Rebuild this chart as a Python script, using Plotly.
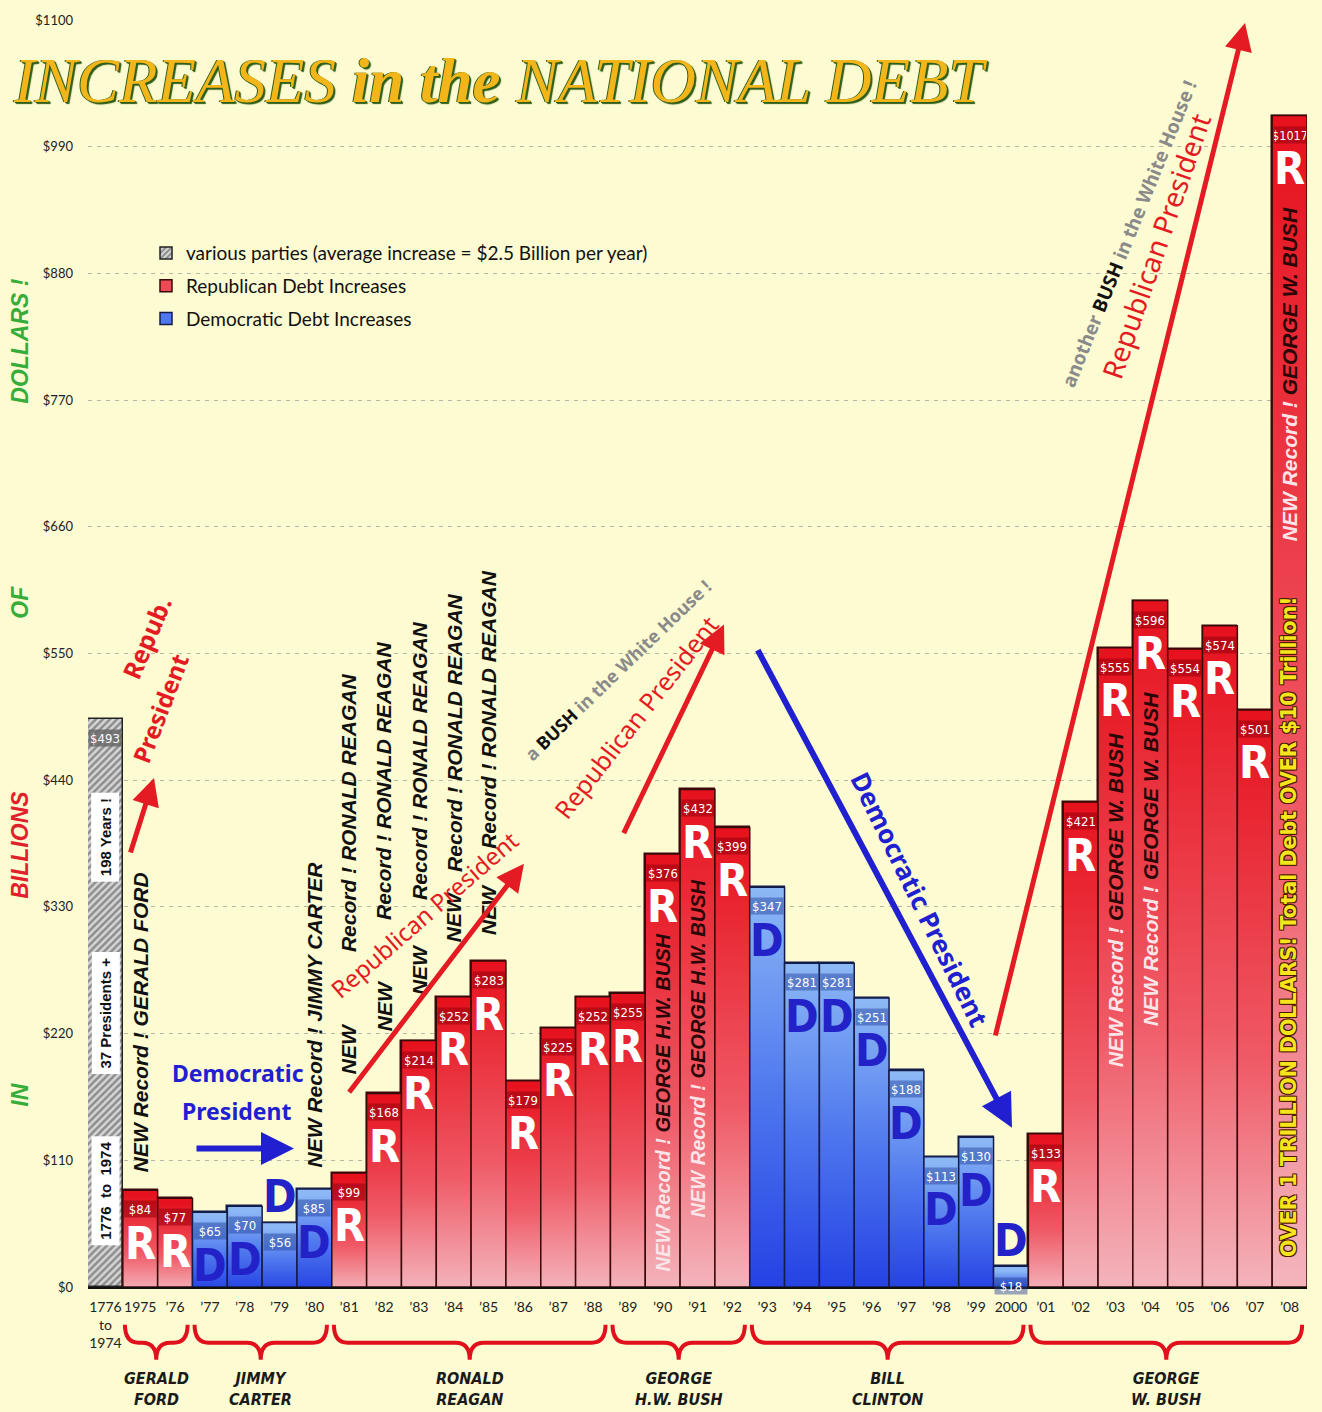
import plotly.graph_objects as go

# ---------------- data ----------------
periods = ["1776-1974", "1975", "1976", "1977", "1978", "1979", "1980",
           "1981", "1982", "1983", "1984", "1985", "1986", "1987", "1988",
           "1989", "1990", "1991", "1992",
           "1993", "1994", "1995", "1996", "1997", "1998", "1999", "2000",
           "2001", "2002", "2003", "2004", "2005", "2006", "2007", "2008"]
tick_labels = ["1776<br>to<br>1974", "1975", "’76", "’77", "’78", "’79", "’80",
               "’81", "’82", "’83", "’84", "’85", "’86", "’87", "’88",
               "’89", "’90", "’91", "’92",
               "’93", "’94", "’95", "’96", "’97", "’98", "’99", "2000",
               "’01", "’02", "’03", "’04", "’05", "’06", "’07", "’08"]
increases = [493, 84, 77, 65, 70, 56, 85,
             99, 168, 214, 252, 283, 179, 225, 252,
             255, 376, 432, 399,
             347, 281, 281, 251, 188, 113, 130, 18,
             133, 421, 555, 596, 554, 574, 501, 1017]
parties = ["V", "R", "R", "D", "D", "D", "D",
           "R", "R", "R", "R", "R", "R", "R", "R",
           "R", "R", "R", "R",
           "D", "D", "D", "D", "D", "D", "D", "D",
           "R", "R", "R", "R", "R", "R", "R", "R"]
president_names = ["GERALD<br>FORD", "JIMMY<br>CARTER", "RONALD<br>REAGAN",
                   "GEORGE<br>H.W. BUSH", "BILL<br>CLINTON", "GEORGE<br>W. BUSH"]
president_first = [1, 3, 7, 15, 19, 27]
president_last = [2, 6, 14, 18, 26, 34]
y_tickvals = [0, 110, 220, 330, 440, 550, 660, 770, 880, 990, 1100]
y_ticktext = ["$" + str(v) for v in y_tickvals]
legend_names = {"V": "various parties (average increase = $2.5 Billion per year)",
                "R": "Republican Debt Increases",
                "D": "Democratic Debt Increases"}

# ---------------- layout helpers ----------------
W, H = 1322, 1412
ML, MR, MT, MB = 88, 15, 15, 125
PW, PH = W - ML - MR, H - MT - MB


def px_x(px):
    return (px - ML) / PW


def px_y(py):
    return (H - MB - py) / PH


BG = "#fdfbd2"
SANS = "Liberation Sans, Arial, sans-serif"
WIDE = "DejaVu Sans, Liberation Sans, sans-serif"
NARROW = "Liberation Sans Narrow, DejaVu Sans Condensed, Roboto Condensed, Arial Narrow, Liberation Sans, sans-serif"
GILL = "Lato, Open Sans, sans-serif"
HAND = "Noto Sans, DejaVu Sans, sans-serif"
RED_TXT = "#e41b23"
BLUE_TXT = "#2020d0"

RED_SCALE = [[0, "#f4b6be"], [0.4, "#ef5a66"], [1, "#e6121e"]]
BLUE_SCALE = [[0, "#2440e4"], [0.5, "#4f78ee"], [1, "#8cb8f6"]]

fig = go.Figure()

idx_v = [i for i, p in enumerate(parties) if p == "V"]
idx_r = [i for i, p in enumerate(parties) if p == "R"]
idx_d = [i for i, p in enumerate(parties) if p == "D"]

fig.add_trace(go.Bar(
    x=idx_v, y=[increases[i] for i in idx_v], name=legend_names["V"],
    legendgroup="v", width=1,
    marker=dict(color="#d9d9d9", line=dict(color="#222222", width=1.5),
                pattern=dict(shape="/", fgcolor="#444444", bgcolor="#d6d6d6",
                             size=5, solidity=0.5)),
    hoverinfo="skip"))
fig.add_trace(go.Bar(
    x=idx_r, y=[increases[i] for i in idx_r], name=legend_names["R"],
    legendgroup="r", width=1,
    marker=dict(color="#ee4a55", line=dict(color="#3a0a0a", width=1.5)),
    hoverinfo="skip"))
fig.add_trace(go.Bar(
    x=idx_d, y=[increases[i] for i in idx_d], name=legend_names["D"],
    legendgroup="d", width=1,
    marker=dict(color="#4f78ee", line=dict(color="#141c4a", width=1.5)),
    hoverinfo="skip"))

# gradient overlays built from the same values
for i, (v, p) in enumerate(zip(increases, parties)):
    if p == "V":
        continue
    scale = RED_SCALE if p == "R" else BLUE_SCALE
    edge = "#3a0a0a" if p == "R" else "#141c4a"
    fig.add_trace(go.Scatter(
        x=[i - 0.5, i - 0.5, i + 0.5, i + 0.5, i - 0.5],
        y=[0, v, v, 0, 0],
        mode="lines", fill="toself",
        fillgradient=dict(type="vertical", colorscale=scale, start=0, stop=v),
        line=dict(color=edge, width=1.5),
        hoverinfo="skip", showlegend=False))

ann = []

# value labels and party letters
for i, (v, p) in enumerate(zip(increases, parties)):
    if p == "V":
        box = "rgba(105,105,105,0.85)"
    elif p == "R":
        box = "rgba(150,0,12,0.55)"
    else:
        box = "rgba(30,60,150,0.45)"
    lab_shift = -19
    if v < 30:
        lab_shift = -(v * PH / 1100) + 1
    label = "$" + str(v)
    ann.append(dict(x=i, y=v, xref="x", yref="y", text=label,
                    yshift=lab_shift, showarrow=False, width=32, height=16,
                    bgcolor=box, borderpad=0,
                    font=dict(family=NARROW, size=12.5 if len(label) > 4 else 13,
                              color="white")))
    if p == "V":
        continue
    letter_shift = -53 if v >= 60 else 26
    ann.append(dict(x=i, y=v, xref="x", yref="y", text=p,
                    yshift=letter_shift, showarrow=False,
                    font=dict(family=NARROW, size=45, weight="bold",
                              color="white" if p == "R" else "#2222c8")))

# pills on the historical bar
for py, t in [(1190, "1776\u00a0\u00a0to\u00a0\u00a01974"), (1012, "37 Presidents +"), (835, "198 Years !")]:
    ann.append(dict(x=0, xref="x", y=px_y(py), yref="paper", text=t, textangle=-90,
                    showarrow=False, bgcolor="white", borderpad=5,
                    font=dict(family=SANS, size=15, weight="bold", color="#111")))


def vtext(idx, py, text, size=21, color="#111"):
    ann.append(dict(x=idx, xref="x", y=px_y(py), yref="paper", text=text,
                    textangle=-90, showarrow=False,
                    font=dict(family=SANS, size=size, color=color,
                              weight="bold", style="italic")))


vtext(1, 1021, "NEW Record ! GERALD FORD")
vtext(6, 1013, "NEW Record ! JIMMY CARTER")
for idx, pn, pr in [(7, 1048, 811), (8, 1005, 779), (9, 968, 758), (10, 915, 730), (11, 908, 707)]:
    vtext(idx, pn, "NEW")
    vtext(idx, pr, "Record ! RONALD REAGAN")

inner = ("<span style='color:#fbe4e8'>NEW Record !</span> "
         "<span style='color:#2a0606'>{}</span>")
vtext(16, 1102, inner.format("GEORGE H.W. BUSH"), size=20)
vtext(17, 1048, inner.format("GEORGE H.W. BUSH"), size=20)
vtext(29, 898, inner.format("GEORGE W. BUSH"), size=21)
vtext(30, 857, inner.format("GEORGE W. BUSH"), size=21)
vtext(34, 371, inner.format("GEORGE W. BUSH"), size=21)
ann.append(dict(x=34, xref="x", y=px_y(925), yref="paper",
                text="OVER 1 TRILLION DOLLARS! Total Debt OVER $10 Trillion!",
                textangle=-90, showarrow=False,
                font=dict(family=WIDE, size=20.5, color="#f8e41c", weight="bold",
                          shadow="1px 1px 0 #4a1a00, -1px -1px 0 #4a1a00, 1px -1px 0 #4a1a00, -1px 1px 0 #4a1a00")))

# title
ann.append(dict(x=px_x(500), y=px_y(76), xref="paper", yref="paper",
                text="INCREASES <b>in the</b> NATIONAL DEBT", showarrow=False,
                font=dict(family="Liberation Serif, DejaVu Serif, serif", size=63,
                          style="italic", color="#f2b51a",
                          shadow="1px 1px 0 #2e5e18, 2px 2px 1px #2e5e18, -1px 0 0 #2e5e18")))

# left axis words
for py, t, c in [(1095, "IN", "#36ad3a"), (843, "BILLIONS", "#e0202a"),
                 (600, "OF", "#36ad3a"), (337, "DOLLARS !", "#36ad3a")]:
    ann.append(dict(x=px_x(20), y=px_y(py), xref="paper", yref="paper", text=t,
                    textangle=-90, showarrow=False,
                    font=dict(family=SANS, size=23, color=c, weight="bold", style="italic")))


# arrows
def arrow(tail, head, color, width=5):
    ann.append(dict(x=px_x(head[0]), y=px_y(head[1]), xref="paper", yref="paper",
                    ax=tail[0] - head[0], ay=tail[1] - head[1], text="",
                    showarrow=True, arrowhead=2, arrowsize=1.1, arrowwidth=width,
                    arrowcolor=color, standoff=0, startstandoff=0))


def htext(px, py, text, angle, size, color, weight="bold"):
    ann.append(dict(x=px_x(px), y=px_y(py), xref="paper", yref="paper", text=text,
                    textangle=angle, showarrow=False,
                    font=dict(family=HAND, size=size, color=color, weight=weight)))


arrow((130, 852), (154, 776), RED_TXT, 5)
htext(146, 635, "Repub.", -67, 25, RED_TXT)
htext(160, 706, "President", -69, 24, RED_TXT)

arrow((195, 1148), (294, 1148), BLUE_TXT, 6)
htext(238, 1072, "Democratic", 0, 23, BLUE_TXT)
htext(236, 1110, "President", 0, 23, BLUE_TXT)

arrow((348, 1092), (524, 862), RED_TXT, 5)
htext(424, 913, "Republican President", -41, 24, RED_TXT, "normal")

htext(618, 668, "<span style='color:#8a8a8a'>a</span> <span style='color:#111'>BUSH</span> "
      "<span style='color:#8a8a8a'>in the White House !</span>", -44, 18, "#8a8a8a")
htext(636, 715, "Republican President", -52, 25, RED_TXT, "normal")
arrow((623, 832), (724, 622), RED_TXT, 5)

arrow((757, 648), (1012, 1127), BLUE_TXT, 6)
htext(920, 897, "Democratic President", 64, 26, BLUE_TXT)

arrow((995, 1032), (1245, 18), RED_TXT, 5)
htext(1129, 230, "<span style='color:#8a8a8a'>another</span> <span style='color:#111'>BUSH</span> "
      "<span style='color:#8a8a8a'>in the White House !</span>", -68, 19, "#8a8a8a")
htext(1156, 242, "Republican President", -71, 28, RED_TXT, "normal")

# president braces and names
shapes = []
yt, ym, yk = px_y(1325), px_y(1343), px_y(1360)
for name, i0, i1 in zip(president_names, president_first, president_last):
    L = i0 - 0.5 + 0.06
    R = i1 + 0.5 - 0.14
    M = (L + R) / 2
    q = 0.4
    path = (f"M {L},{yt} Q {L},{ym} {L + q},{ym} L {M - q},{ym} "
            f"Q {M},{ym} {M},{yk} Q {M},{ym} {M + q},{ym} "
            f"L {R - q},{ym} Q {R},{ym} {R},{yt}")
    shapes.append(dict(type="path", path=path, xref="x", yref="paper",
                       line=dict(color="#e0101c", width=4)))
    ann.append(dict(x=M, xref="x", y=px_y(1389), yref="paper", text=name,
                    showarrow=False,
                    font=dict(family=NARROW, size=16, color="#1a1a1a",
                              weight="bold", style="italic")))

# explicit anchors everywhere
for a in ann:
    a.setdefault("xanchor", "center")
    a.setdefault("yanchor", "middle")

fig.update_layout(
    width=W, height=H,
    margin=dict(l=ML, r=MR, t=MT, b=MB),
    paper_bgcolor=BG, plot_bgcolor=BG,
    barmode="overlay", bargap=0,
    showlegend=True,
    legend=dict(x=px_x(146), y=px_y(230), xanchor="left", yanchor="top",
                bgcolor="rgba(0,0,0,0)", traceorder="grouped", tracegroupgap=5,
                font=dict(family=GILL, size=19, color="#111")),
    xaxis=dict(range=[-0.5, len(periods) - 0.5], tickmode="array",
               tickvals=list(range(len(periods))), ticktext=tick_labels,
               tickangle=0,
               showgrid=False, zeroline=False, showline=True,
               linecolor="#111", linewidth=2, ticks="", ticklabelstandoff=6,
               tickfont=dict(family=GILL, size=14, color="#222"), fixedrange=True),
    yaxis=dict(range=[0, 1100], tickmode="array", tickvals=y_tickvals,
               ticktext=y_ticktext, showgrid=True, gridcolor="#b8b8a6",
               griddash="4px,5px", gridwidth=1, zeroline=False, showline=False,
               ticks="", ticklabelstandoff=14,
               tickfont=dict(family=GILL, size=13, color="#222"), fixedrange=True),
    annotations=ann, shapes=shapes,
    hovermode=False,
)

fig.write_html(
    "out.html",
    config={"displayModeBar": False},
    post_script=("document.body.style.margin='0';"
                 "document.body.style.background='" + BG + "';"
                 "document.documentElement.style.overflow='hidden';"),
)
